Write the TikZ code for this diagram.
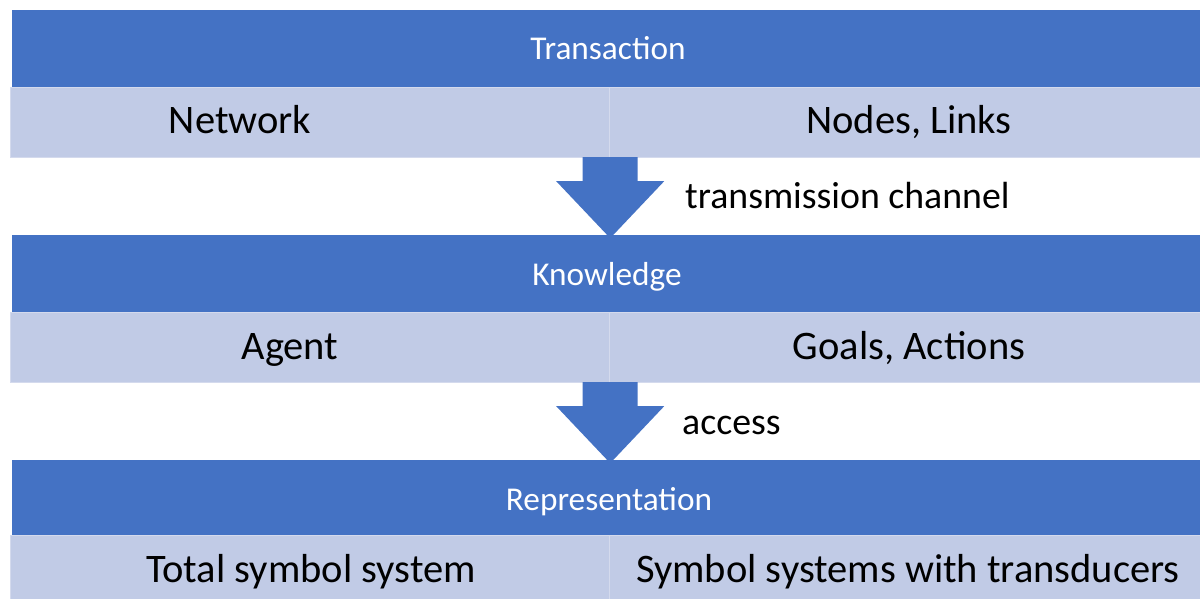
\documentclass[tikz,border=0pt]{standalone}
\usepackage{fontspec}
\setmainfont{Carlito}
\definecolor{hdr}{HTML}{4472C4}
\definecolor{cell}{RGB}{193,203,230}
\definecolor{cellrule}{RGB}{212,218,237}

\begin{document}
\begin{tikzpicture}[x=1pt,y=-1pt,
  hdrband/.style={fill=hdr, draw=none, anchor=north west, inner sep=0pt,
                  minimum width=1188pt, minimum height=77pt},
  cellbox/.style={fill=cell, draw=cellrule, line width=1.2pt, anchor=north west,
                  inner sep=0pt, minimum height=70pt},
  hdrtext/.style={text=white, anchor=base, inner sep=0pt,
                  font=\fontsize{33.3}{40}\selectfont},
  celltext/.style={text=black, anchor=base, inner sep=0pt,
                   font=\fontsize{40.5}{48}\selectfont},
  sidetext/.style={text=black, anchor=base west, inner sep=0pt,
                   font=\fontsize{37.8}{46}\selectfont},
  blockarrow/.pic={
    \fill[hdr] (-27.5,-1) -- (27.5,-1) -- (27.5,23) -- (54,23) -- (0,80)
               -- (-54,23) -- (-27.5,23) -- cycle;
  }]
\useasboundingbox (0,0) rectangle (1200,599);

% layer 1: transaction
\node[hdrband] (h1) at (12,10) {};
\node[cellbox, minimum width=599pt] (l1) at (10,87) {};
\node[cellbox, minimum width=593pt] (r1) at (609,87) {};
\node[hdrtext] (t1) at (608,60) {Transaction};
\node[celltext] (n1) at (240,134) {Network};
\node[celltext] (m1) at (909,134) {Nodes, Links};

% layer 2: knowledge
\node[hdrband] (h2) at (12,235) {};
\node[cellbox, minimum width=599pt] (l2) at (10,312) {};
\node[cellbox, minimum width=593pt] (r2) at (609,312) {};
\node[hdrtext] (t2) at (607,285) {Knowledge};
\node[celltext] (n2) at (290,359) {Agent};
\node[celltext] (m2) at (909,359) {Goals, Actions};

% layer 3: representation
\node[hdrband] (h3) at (12,460) {};
\node[cellbox, minimum width=599pt, minimum height=72pt] (l3) at (10,535) {};
\node[cellbox, minimum width=593pt, minimum height=72pt] (r3) at (609,535) {};
\node[hdrtext] (t3) at (609,510) {Representation};
\node[celltext] (n3) at (311,582) {Total symbol system};
\node[celltext] (m3) at (908,582) {Symbol systems with transducers};

% block arrows between layers
\coordinate (a1) at (l1.south east);
\coordinate (a2) at (l2.south east);
\pic at (a1) {blockarrow};
\pic at (a2) {blockarrow};
\node[sidetext] (c1) at (685,208) {transmission channel};
\node[sidetext] (c2) at (682,434) {access};
\end{tikzpicture}
\end{document}
